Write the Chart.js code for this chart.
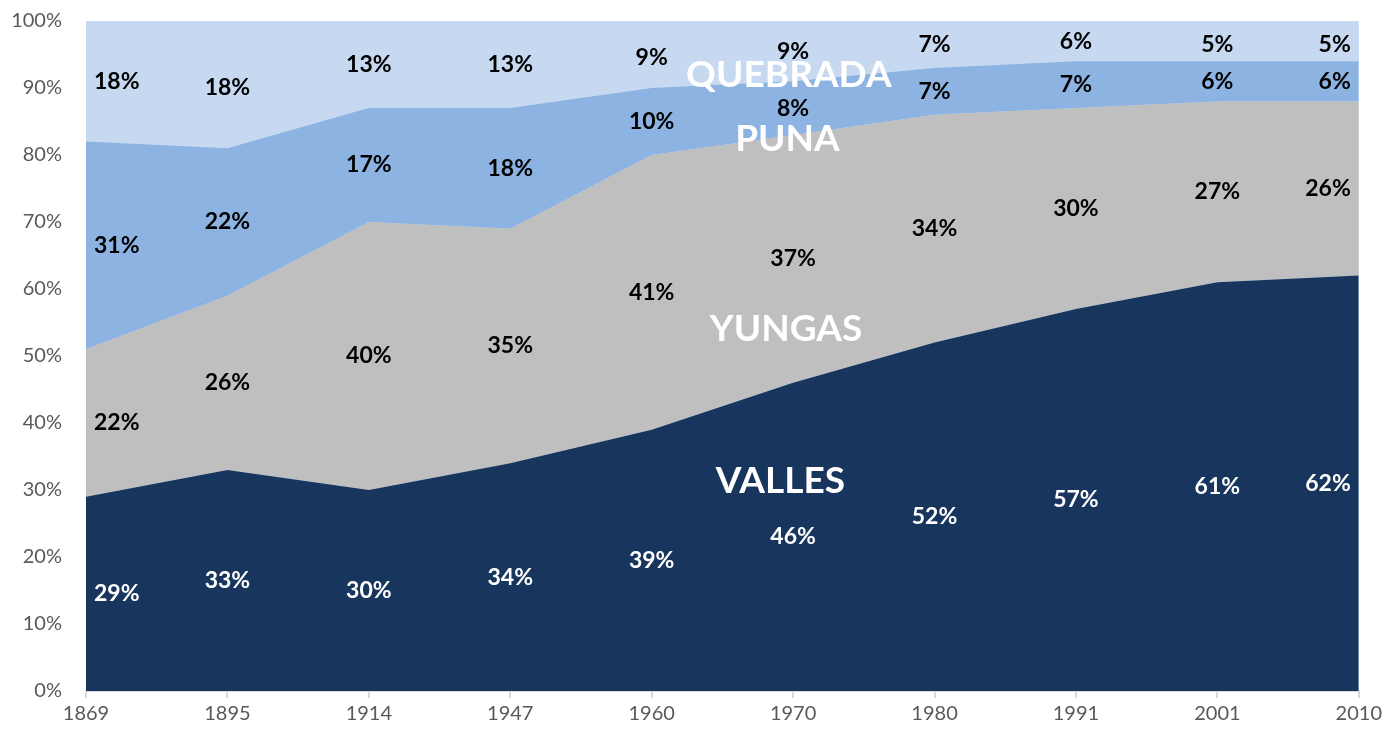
<!DOCTYPE html>
<html>
<head>
<meta charset="utf-8">
<script src="https://cdn.jsdelivr.net/npm/chart.js@4/dist/chart.umd.min.js"></script>
<style>
  html, body { margin: 0; padding: 0; background: #ffffff; }
  #wrap { width: 1386px; height: 731px; position: relative; }
</style>
</head>
<body>
<div id="wrap"><canvas id="chart"></canvas></div>
<script>
// Population share by region, census years
const YEARS    = ['1869', '1895', '1914', '1947', '1960', '1970', '1980', '1991', '2001', '2010'];
const VALLES   = [29, 33, 30, 34, 39, 46, 52, 57, 61, 62];
const YUNGAS   = [22, 26, 40, 35, 41, 37, 34, 30, 27, 26];
const PUNA     = [31, 22, 17, 18, 10,  8,  7,  7,  6,  6];
const QUEBRADA = [18, 18, 13, 13,  9,  9,  7,  6,  5,  5];
const Y_TICKS  = [0, 10, 20, 30, 40, 50, 60, 70, 80, 90, 100];

const COLOR_VALLES   = '#18365d';
const COLOR_YUNGAS   = '#bfbfbf';
const COLOR_PUNA     = '#8db3e2';
const COLOR_QUEBRADA = '#c6d9f1';

const FONT = "Lato, 'Open Sans', sans-serif";

// region names written inside their bands (x = category index, y = % on axis)
const REGION_TAGS = [
  { text: 'QUEBRADA', x: 4.97, y: 91.9 },
  { text: 'PUNA',     x: 4.96, y: 82.4 },
  { text: 'YUNGAS',   x: 4.95, y: 54.0 },
  { text: 'VALLES',   x: 4.91, y: 31.3 },
];

function areaSet(label, data, color, fill) {
  return {
    label,
    data,
    backgroundColor: color,
    borderColor: color,
    borderWidth: 0,
    pointRadius: 0,
    tension: 0,
    fill,
  };
}

// top band always runs up to 100%
const bandBackground = {
  id: 'bandBackground',
  beforeDatasetsDraw(chart) {
    const { ctx, chartArea: a } = chart;
    ctx.save();
    ctx.fillStyle = COLOR_QUEBRADA;
    ctx.fillRect(a.left, a.top, a.right - a.left, a.bottom - a.top);
    ctx.restore();
  },
};

// value labels centred in each band, plus the region names
const bandLabels = {
  id: 'bandLabels',
  afterDatasetsDraw(chart) {
    const { ctx, chartArea: a } = chart;
    const xs = chart.scales.x, ys = chart.scales.y;
    const edge = 8;
    ctx.save();
    ctx.textBaseline = 'middle';
    ctx.textAlign = 'left';
    ctx.font = `bold 23px ${FONT}`;
    const base = YEARS.map(() => 0);
    chart.data.datasets.forEach((ds, i) => {
      ctx.fillStyle = i === 0 ? '#ffffff' : '#000000';
      ds.data.forEach((v, j) => {
        const text = v + '%';
        const w = ctx.measureText(text).width;
        let x = xs.getPixelForValue(j) - w / 2;
        x = Math.max(a.left + edge, Math.min(a.right - edge - w, x));
        const y = ys.getPixelForValue(base[j] + v / 2);
        ctx.fillText(text, x, y);
        base[j] += v;
      });
    });
    ctx.textAlign = 'center';
    ctx.fillStyle = '#ffffff';
    ctx.font = `bold 37px ${FONT}`;
    REGION_TAGS.forEach(t => {
      ctx.fillText(t.text, xs.getPixelForValue(t.x), ys.getPixelForValue(t.y));
    });
    ctx.restore();
  },
};

new Chart(document.getElementById('chart'), {
  type: 'line',
  data: {
    labels: YEARS,
    datasets: [
      areaSet('VALLES',   VALLES,   COLOR_VALLES,   'origin'),
      areaSet('YUNGAS',   YUNGAS,   COLOR_YUNGAS,   '-1'),
      areaSet('PUNA',     PUNA,     COLOR_PUNA,     '-1'),
      areaSet('QUEBRADA', QUEBRADA, COLOR_QUEBRADA, '-1'),
    ],
  },
  options: {
    responsive: true,
    maintainAspectRatio: false,
    animation: false,
    layout: { padding: { top: 21, right: 22, bottom: 0, left: 0 } },
    plugins: {
      legend: { display: false },
      tooltip: { enabled: false },
    },
    scales: {
      x: {
        offset: false,
        grid: {
          display: true,
          drawOnChartArea: false,
          drawTicks: true,
          tickLength: 7,
          color: '#d9d9d9',
          lineWidth: 2,
        },
        border: { display: true, color: '#d9d9d9', width: 2 },
        ticks: {
          color: '#595959',
          font: { family: FONT, size: 20 },
          padding: 4,
          maxRotation: 0,
          autoSkip: false,
        },
        afterFit(scale) { scale.height = 40; },
      },
      y: {
        stacked: true,
        min: 0,
        max: 100,
        grid: { display: false, drawTicks: false },
        border: { display: false },
        afterBuildTicks(scale) { scale.ticks = Y_TICKS.map(v => ({ value: v })); },
        ticks: {
          color: '#595959',
          font: { family: FONT, size: 20 },
          padding: 24,
          callback: v => v + '%',
        },
        afterFit(scale) {
          scale.width = 86;
          scale.paddingTop = 0;
          scale.paddingBottom = 0;
        },
      },
    },
  },
  plugins: [bandBackground, bandLabels],
});
</script>
</body>
</html>
